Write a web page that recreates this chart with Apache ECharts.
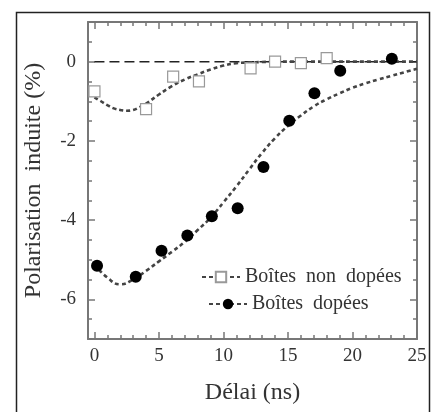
<!DOCTYPE html>
<html>
<head>
<meta charset="utf-8">
<script src="https://cdn.jsdelivr.net/npm/echarts@6/dist/echarts.min.js"></script>
<style>
  html, body { margin: 0; padding: 0; background: #fff; }
  #chart { width: 436px; height: 412px; }
</style>
</head>
<body>
<div id="chart"></div>
<script>
const nonDopeX = [0, 4, 6.1, 8.1, 12.1, 14, 16, 18];
const nonDopeY = [-0.75, -1.2, -0.38, -0.5, -0.17, 0.0, -0.04, 0.09];
const dopeX = [0.2, 3.2, 5.2, 7.2, 9.1, 11.1, 13.1, 15.1, 17.05, 19.05, 23.05];
const dopeY = [-5.15, -5.43, -4.77, -4.39, -3.9, -3.7, -2.66, -1.49, -0.8, -0.23, 0.07];

// courbes d'ajustement (relevées point par point)
const fitNonDopeX = [0, 0.5, 1, 1.5, 2, 2.5, 3, 3.5, 4, 5, 6, 7, 8, 9, 10, 11, 12, 13, 14, 25];
const fitNonDopeY = [-0.9, -1.0, -1.1, -1.18, -1.22, -1.24, -1.22, -1.15, -1.06, -0.83, -0.62, -0.45, -0.32, -0.2, -0.1, -0.04, -0.02, -0.01, 0, 0];
const fitDopeX = [0, 1, 2, 3, 4, 5, 6, 7, 8, 9, 10, 11, 12, 13, 14, 15, 16, 17, 18, 19, 20, 21, 22, 23, 24, 25];
const fitDopeY = [-5.12, -5.45, -5.62, -5.5, -5.28, -5.04, -4.8, -4.55, -4.25, -3.94, -3.55, -3.15, -2.72, -2.3, -1.93, -1.62, -1.36, -1.13, -0.95, -0.8, -0.66, -0.55, -0.45, -0.36, -0.27, -0.18];

const zeroX = [0, 25];
const zeroY = [0, 0];

const xTicks = [0, 5, 10, 15, 20, 25];
const xMinor = [0, 1, 2, 3, 4, 5, 6, 7, 8, 9, 10, 11, 12, 13, 14, 15, 16, 17, 18, 19, 20, 21, 22, 23, 24, 25];
const yTicks = [-6, -4, -2, 0];
const yMinor = [-7, -6.5, -6, -5.5, -5, -4.5, -4, -3.5, -3, -2.5, -2, -1.5, -1, -0.5, 0, 0.5, 1];

const pairs = (xs, ys) => xs.map((x, i) => [x, ys[i]]);

const font = 'Liberation Serif';
const axisCol = '#777';
const textCol = '#333';

const chart = echarts.init(document.getElementById('chart'));

function xAx(pos, major, withLine) {
    return {
        type: 'value', position: pos, min: -0.5, max: 25,
        axisLine: { show: withLine, onZero: false, lineStyle: { color: axisCol, width: 2 } },
        axisTick: { show: true, inside: true, length: major ? 7 : 4, customValues: major ? xTicks : xMinor,
            lineStyle: { color: axisCol, width: 1.5 } },
        axisLabel: { show: pos === 'bottom' && major, customValues: xTicks, color: textCol,
            fontFamily: font, fontSize: 19, margin: 8 },
        splitLine: { show: false },
        name: pos === 'bottom' && major ? 'Délai (ns)' : '',
        nameLocation: 'middle', nameGap: 42,
        nameTextStyle: { fontFamily: font, fontSize: 24, color: textCol }
    };
}
function yAx(pos, major, withLine) {
    return {
        type: 'value', position: pos, min: -7, max: 1,
        axisLine: { show: withLine, onZero: false, lineStyle: { color: axisCol, width: 2 } },
        axisTick: { show: true, inside: true, length: major ? 7 : 4, customValues: major ? yTicks : yMinor,
            lineStyle: { color: axisCol, width: 1.5 } },
        axisLabel: { show: pos === 'left' && major, customValues: yTicks, color: textCol,
            fontFamily: font, fontSize: 19, margin: 12 },
        splitLine: { show: false },
        name: pos === 'left' && major ? 'Polarisation  induite (%)' : '',
        nameLocation: 'middle', nameGap: 42,
        nameTextStyle: { fontFamily: font, fontSize: 24, color: textCol }
    };
}

const fitStyle = { color: '#444', width: 2.6, type: [4, 3] };

const option = {
    animation: false,
    backgroundColor: '#fff',
    grid: { left: 88, right: 19, top: 22, bottom: 73 },
    xAxis: [xAx('bottom', true, true), xAx('bottom', false, false), xAx('top', true, true), xAx('top', false, false)],
    yAxis: [yAx('left', true, true), yAx('left', false, false), yAx('right', true, true), yAx('right', false, false)],
    legend: [
        {
            data: ['Boîtes non dopées'], left: 196, top: 262, itemWidth: 38, itemHeight: 13,
            formatter: n => n.replace(/ /g, '  '),
            textStyle: { fontFamily: font, fontSize: 20, color: textCol }
        },
        {
            data: ['Boîtes dopées'], left: 203, top: 289, itemWidth: 38, itemHeight: 13,
            formatter: n => n.replace(/ /g, '  '),
            textStyle: { fontFamily: font, fontSize: 20, color: textCol }
        }
    ],
    graphic: [{
        type: 'rect', left: 14, top: 10, silent: true,
        shape: { width: 413, height: 420 },
        style: { fill: 'none', stroke: '#222', lineWidth: 1.5 }
    }],
    series: [
        {
            name: 'zero', type: 'line', data: pairs(zeroX, zeroY), showSymbol: false, symbol: 'none',
            lineStyle: { color: '#222', width: 1.5, type: [10, 5] }, silent: true
        },
        {
            name: 'Boîtes non dopées', type: 'line', data: pairs(fitNonDopeX, fitNonDopeY), smooth: true,
            showSymbol: false, symbol: 'emptyRect', symbolSize: 10,
            itemStyle: { color: '#999' }, lineStyle: fitStyle
        },
        {
            name: 'Boîtes dopées', type: 'line', data: pairs(fitDopeX, fitDopeY), smooth: true,
            showSymbol: false, symbol: 'circle', symbolSize: 10,
            itemStyle: { color: '#000' }, lineStyle: fitStyle
        },
        {
            name: 'Boîtes non dopées', type: 'scatter', data: pairs(nonDopeX, nonDopeY),
            symbol: 'rect', symbolSize: 11, z: 5,
            itemStyle: { color: '#fff', borderColor: '#999', borderWidth: 1.2, opacity: 1 }
        },
        {
            name: 'Boîtes dopées', type: 'scatter', data: pairs(dopeX, dopeY),
            symbol: 'circle', symbolSize: 12, z: 5,
            itemStyle: { color: '#000', opacity: 1 }
        }
    ]
};
chart.setOption(option);
window.addEventListener('resize', () => chart.resize());
</script>
</body>
</html>
